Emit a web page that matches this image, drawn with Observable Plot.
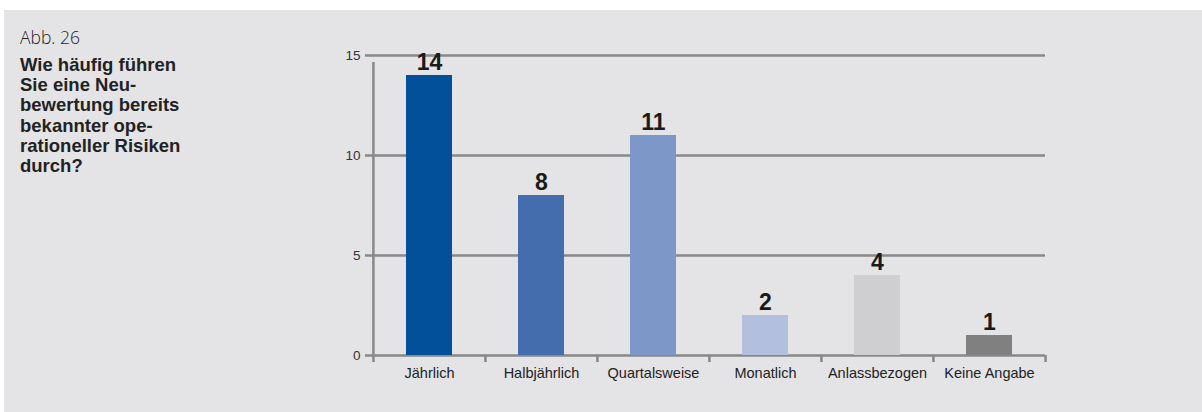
<!DOCTYPE html>
<html>
<head>
<meta charset="utf-8">
<script src="https://cdn.jsdelivr.net/npm/d3@7"></script>
<script src="https://cdn.jsdelivr.net/npm/@observablehq/plot@0.6"></script>
<style>
  html, body { margin: 0; padding: 0; background: #ffffff; width: 1202px; height: 412px; overflow: hidden; }
  #panel { position: absolute; left: 4px; top: 10px; width: 1198px; height: 402px; background: #e4e4e6; }
  #abb { position: absolute; left: 16px; top: 18px; font-family: "Open Sans", "Liberation Sans", sans-serif; font-weight: 300; font-size: 17.5px; line-height: 18px; color: #1e1e1e; }
  #title { position: absolute; left: 16px; top: 45px; font-family: "Liberation Sans", Arial, sans-serif; font-weight: bold; font-size: 18.5px; line-height: 20.2px; color: #222; white-space: pre; }
  #chart { position: absolute; left: 0; top: 0; }
</style>
</head>
<body>
<div id="panel">
  <div id="abb">Abb. 26</div>
  <div id="title"></div>
  <div id="chart"></div>
</div>
<script>
const categories = ["Jährlich", "Halbjährlich", "Quartalsweise", "Monatlich", "Anlassbezogen", "Keine Angabe"];
const values = [14, 8, 11, 2, 4, 1];
const colors = ["#03509a", "#436dad", "#7d97c8", "#b3bfdf", "#cfcfd1", "#808080"];
const yTicks = [0, 5, 10, 15];
const titleLines = ["Wie häufig führen", "Sie eine Neu-", "bewertung bereits", "bekannter ope-", "rationeller Risiken", "durch?"];

document.getElementById("title").textContent = titleLines.join("\n");

const data = categories.map((c, i) => ({cat: c, value: values[i]}));

const W = 1198, H = 402;
const mL = 368, mR = 157, mT = 45, mB = 57;
const bw = (W - mL - mR) / categories.length;
const axisColor = "#888888";
const font = '"Liberation Sans Narrow", "Arial Narrow", "Liberation Sans", Arial, sans-serif';

const plot = Plot.plot({
  width: W,
  height: H,
  marginLeft: mL,
  marginRight: mR,
  marginTop: mT,
  marginBottom: mB,
  style: {background: "transparent", fontFamily: font, overflow: "visible"},
  x: {domain: categories, padding: 0, label: null},
  y: {domain: [0, 15], label: null},
  color: {domain: categories, range: colors},
  marks: [
    Plot.ruleY(yTicks, {stroke: axisColor, strokeWidth: 2.5}),
    // boundary ticks below the baseline
    Plot.ruleX(categories, {x: d => d, y1: 0, y2: 0, dx: -bw / 2, insetBottom: -7, stroke: axisColor, strokeWidth: 2.5}),
    Plot.ruleX([categories[categories.length - 1]], {x: d => d, y1: 0, y2: 0, dx: bw / 2, insetBottom: -7, stroke: axisColor, strokeWidth: 2.5}),
    // vertical y-axis line
    Plot.ruleX([categories[0]], {x: d => d, y1: 0, y2: 15, dx: -bw / 2, insetBottom: -7, stroke: axisColor, strokeWidth: 2.5}),
    Plot.axisY({ticks: yTicks, tickSize: 7, tickPadding: 5, fontSize: 13.5, fill: "#333", stroke: axisColor, strokeWidth: 2.5, tickFormat: d => String(d)}),
    Plot.axisX({tickSize: 0, tickPadding: 12, fontSize: 14.5, fill: "#222"}),
    Plot.barY(data, {x: "cat", y: "value", fill: "cat", insetLeft: 33, insetRight: 33}),
    Plot.text(data, {x: "cat", y: "value", text: d => String(d.value), dy: -6, lineAnchor: "bottom", fontSize: 23, fontWeight: "bold", fill: "#1a1a1a", fontFamily: '"Liberation Sans", Arial, sans-serif'})
  ]
});
document.getElementById("chart").appendChild(plot);
</script>
</body>
</html>
